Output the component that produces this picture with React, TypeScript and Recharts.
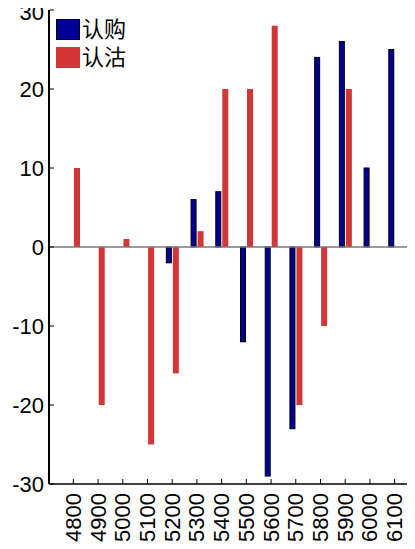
import React from 'react';
import { BarChart, Bar, XAxis, YAxis, ReferenceLine, Legend } from 'recharts';

const categories = ['4800', '4900', '5000', '5100', '5200', '5300', '5400', '5500', '5600', '5700', '5800', '5900', '6000', '6100'];
const callValues = [0, 0, 0, 0, -2, 6, 7, -12, -29, -23, 24, 26, 10, 25];
const putValues = [10, -20, 1, -25, -16, 2, 20, 20, 28, -20, -10, 20, 0, 0];
const yTicks = [-30, -20, -10, 0, 10, 20, 30];
const seriesNames = ['认购', '认沽'];
const seriesColors = ['#000096', '#d23636'];

const data = categories.map((c, i) => ({ strike: c, call: callValues[i], put: putValues[i] }));

const FONT = '"Liberation Sans", Arial, sans-serif';

const LeftTick = (props: any) => {
  const { x, y, payload } = props;
  const dy = payload.value === 30 ? 2.5 : 0;
  return (
    <g>
      <line x1={x + 5} y1={y} x2={x + 10} y2={y} stroke="#000" strokeWidth={1} />
      <text x={x} y={y + dy} textAnchor="end" dominantBaseline="central" fontSize={22} fontFamily={FONT} fill="#000">
        {payload.value}
      </text>
    </g>
  );
};

const RightTick = (props: any) => {
  const { x, y } = props;
  return <line x1={x - 5} y1={y} x2={x} y2={y} stroke="#000" strokeWidth={1} />;
};

const TopTick = (props: any) => {
  const { x, y } = props;
  return <line x1={x} y1={y} x2={x} y2={y + 5} stroke="#000" strokeWidth={1} />;
};

const BottomTick = (props: any) => {
  const { x, y, payload } = props;
  const axisY = y - 9;
  return (
    <g>
      <line x1={x} y1={axisY} x2={x} y2={axisY - 5} stroke="#000" strokeWidth={1} />
      <text
        x={x}
        y={y}
        transform={`rotate(-90 ${x} ${y})`}
        textAnchor="end"
        dominantBaseline="central"
        fontSize={22}
        fontFamily={FONT}
        fill="#000"
      >
        {payload.value}
      </text>
    </g>
  );
};

const OutlinedBar = (props: any) => {
  const { x, y, width, height, fill } = props;
  if (!height) return null;
  const top = Math.min(y, y + height);
  const h = Math.abs(height);
  return <rect x={x + 0.5} y={top} width={Math.max(width - 1, 0)} height={h} fill={fill} stroke="#000" strokeWidth={1} />;
};

const LegendContent = () => (
  <div style={{ display: 'flex', flexDirection: 'column' }}>
    {seriesNames.map((n, i) => (
      <div key={n} style={{ display: 'flex', alignItems: 'center', height: 28 }}>
        <div
          style={{
            width: i === 0 ? 22 : 24,
            height: i === 0 ? 19 : 21,
            background: seriesColors[i],
            border: i === 0 ? '1px solid #000' : 'none',
            marginRight: 2,
          }}
        />
        <span
          style={{
            display: 'inline-block',
            height: 22,
            paddingTop: 2,
            fontFamily: '"Liberation Sans", "Noto Sans CJK SC", sans-serif',
            fontSize: 22,
            color: '#000',
            lineHeight: '22px',
          }}
        >
          {n}
        </span>
      </div>
    ))}
  </div>
);

export default function App() {
  return (
    <div style={{ width: 415, height: 549, overflow: 'hidden', position: 'relative', margin: '-8px 0 0 -8px' }}>
      <BarChart
        width={419}
        height={549}
        data={data}
        margin={{ top: 10, right: 0, bottom: 0, left: 0 }}
        barGap={1}
        barSize={6}
      >
        <XAxis
          xAxisId="bottom"
          dataKey="strike"
          height={65}
          padding={{ left: 12, right: 12 }}
          tickSize={0}
          tickMargin={9}
          interval={0}
          tick={<BottomTick />}
          axisLine={{ stroke: '#000', strokeWidth: 1.5 }}
          tickLine={false}
        />
        <XAxis
          xAxisId="top"
          dataKey="strike"
          orientation="top"
          height={0}
          padding={{ left: 12, right: 12 }}
          tickSize={0}
          tickMargin={0}
          interval={0}
          tick={<TopTick />}
          axisLine={{ stroke: '#000', strokeWidth: 1 }}
          tickLine={false}
        />
        <YAxis
          yAxisId="left"
          domain={[-30, 30]}
          ticks={yTicks}
          width={49}
          tickSize={0}
          tickMargin={5}
          interval={0}
          tick={<LeftTick />}
          axisLine={{ stroke: '#000', strokeWidth: 2 }}
          tickLine={false}
        />
        <YAxis
          yAxisId="right"
          orientation="right"
          domain={[-30, 30]}
          ticks={yTicks}
          width={0}
          tickSize={0}
          tickMargin={0}
          interval={0}
          tick={<RightTick />}
          axisLine={{ stroke: '#000', strokeWidth: 1 }}
          tickLine={false}
        />
        <ReferenceLine y={0} yAxisId="left" xAxisId="bottom" stroke="#7a7a7a" strokeWidth={1.5} />
        <Bar
          dataKey="call"
          name={seriesNames[0]}
          xAxisId="bottom"
          yAxisId="left"
          fill={seriesColors[0]}
          shape={<OutlinedBar />}
          isAnimationActive={false}
        />
        <Bar
          dataKey="put"
          name={seriesNames[1]}
          xAxisId="bottom"
          yAxisId="left"
          fill={seriesColors[1]}
          isAnimationActive={false}
        />
        <Legend
          layout="vertical"
          align="center"
          verticalAlign="middle"
          content={<LegendContent />}
          wrapperStyle={{ position: 'absolute', top: 15, left: 56, width: 'auto', height: 'auto' }}
        />
      </BarChart>
    </div>
  );
}
